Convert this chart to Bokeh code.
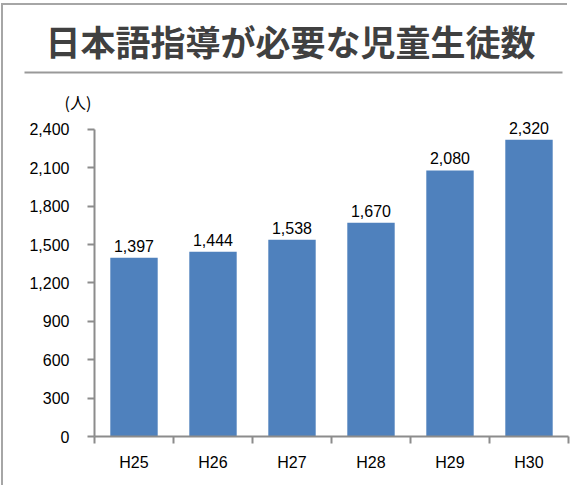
from bokeh.plotting import figure
from bokeh.models import ColumnDataSource, Range1d, FixedTicker, NumeralTickFormatter, LabelSet
from bokeh.layouts import column
from bokeh.embed import file_html
from bokeh.resources import INLINE
from bokeh.core.properties import value

# ---- data ----
title_text = "日本語指導が必要な児童生徒数"
unit_label = "(人)"
categories = ["H25", "H26", "H27", "H28", "H29", "H30"]
counts = [1397, 1444, 1538, 1670, 2080, 2320]
y_ticks = [0, 300, 600, 900, 1200, 1500, 1800, 2100, 2400]

AXIS_COLOR = "#8c8c8c"
BORDER = "2px solid #a6a6a6"
BAR_COLOR = "#4F81BD"
FONT = "Liberation Sans"

# ---- header (title + underline) ----
hdr = figure(frame_width=538, frame_height=59, x_range=Range1d(0, 1), y_range=Range1d(0, 1),
             output_backend="svg", toolbar_location=None,
             min_border_left=21, min_border_right=5, min_border_top=8, min_border_bottom=4)
hdr.border_fill_color = None
hdr.background_fill_color = None
hdr.grid.visible = False
hdr.yaxis.visible = False
hdr.outline_line_color = None
hdr.xaxis.ticker = FixedTicker(ticks=[])
hdr.xaxis.major_tick_out = 0
hdr.xaxis.major_tick_in = 0
hdr.xaxis.minor_tick_out = 0
hdr.xaxis.minor_tick_in = 0
hdr.xaxis.major_label_text_font_size = "0px"
hdr.xaxis.major_label_standoff = 0
hdr.xaxis.axis_line_color = "#999999"
hdr.xaxis.axis_line_width = 2
hdr.text(x=[0.5], y=[0.5], text=[title_text], text_align="center", text_baseline="middle",
         x_offset=-3, y_offset=-3,
         text_font=value("Noto Sans CJK JP"), text_font_style="bold",
         text_font_size="35px", text_color="#404040")

# ---- chart ----
xs = [i + 0.5 for i in range(len(categories))]
src = ColumnDataSource(dict(x=xs, cat=categories, count=counts,
                            label=[f"{c:,}" for c in counts]))

p = figure(frame_width=474, frame_height=323, x_range=Range1d(0, len(categories)),
           y_range=Range1d(0, 2525),
           output_backend="svg", toolbar_location=None,
           min_border_left=91, min_border_right=6, min_border_top=37, min_border_bottom=49)
p.border_fill_color = None
p.background_fill_color = None
p.grid.visible = False
p.outline_line_color = None

p.vbar(x="x", top="count", width=0.6, source=src, fill_color=BAR_COLOR, line_color=None)

# x axis: labels at centres, ticks at category boundaries
p.xaxis.ticker = FixedTicker(ticks=xs, minor_ticks=list(range(len(categories) + 1)))
p.xaxis.major_label_overrides = {x: c for x, c in zip(xs, categories)}
p.xaxis.major_tick_out = 0
p.xaxis.major_tick_in = 0
p.xaxis.minor_tick_out = 7
p.xaxis.minor_tick_in = 0
p.xaxis.minor_tick_line_color = AXIS_COLOR
p.xaxis.minor_tick_line_width = 2
p.xaxis.axis_line_color = AXIS_COLOR
p.xaxis.axis_line_width = 2
p.xaxis.major_label_standoff = 10
p.xaxis.major_label_text_font = FONT
p.xaxis.major_label_text_font_size = "16px"
p.xaxis.major_label_text_color = "#000000"

# y axis
p.yaxis.ticker = FixedTicker(ticks=y_ticks, minor_ticks=[])
p.yaxis.bounds = (y_ticks[0], y_ticks[-1])
p.yaxis.formatter = NumeralTickFormatter(format="0,0")
p.yaxis.major_tick_out = 7
p.yaxis.major_tick_in = 0
p.yaxis.minor_tick_out = 0
p.yaxis.minor_tick_in = 0
p.yaxis.major_tick_line_color = AXIS_COLOR
p.yaxis.major_tick_line_width = 2
p.yaxis.axis_line_color = AXIS_COLOR
p.yaxis.axis_line_width = 2
p.yaxis.major_label_standoff = 18
p.yaxis.major_label_text_font = FONT
p.yaxis.major_label_text_font_size = "16px"
p.yaxis.major_label_text_color = "#000000"

labels = LabelSet(x="x", y="count", text="label", source=src, text_align="center",
                  text_baseline="bottom", y_offset=6, text_font=value(FONT),
                  text_font_size="16px", text_color="#000000")
p.add_layout(labels)

# unit label as the plot title, left of the y axis top
p.title.text = unit_label
p.title.align = "left"
p.title.offset = -30
p.title.standoff = 0
p.title.text_font = "Noto Sans CJK JP"
p.title.text_font_size = "16px"
p.title.text_font_style = "normal"
p.title.text_color = "#000000"

top_box = column(hdr, styles={"margin-top": "3px", "margin-left": "1px",
                              "border-top": BORDER, "border-left": BORDER})
chart_box = column(p, styles={"margin-left": "1px", "border-left": BORDER})

open("out.html", "w").write(file_html([top_box, chart_box], INLINE))
